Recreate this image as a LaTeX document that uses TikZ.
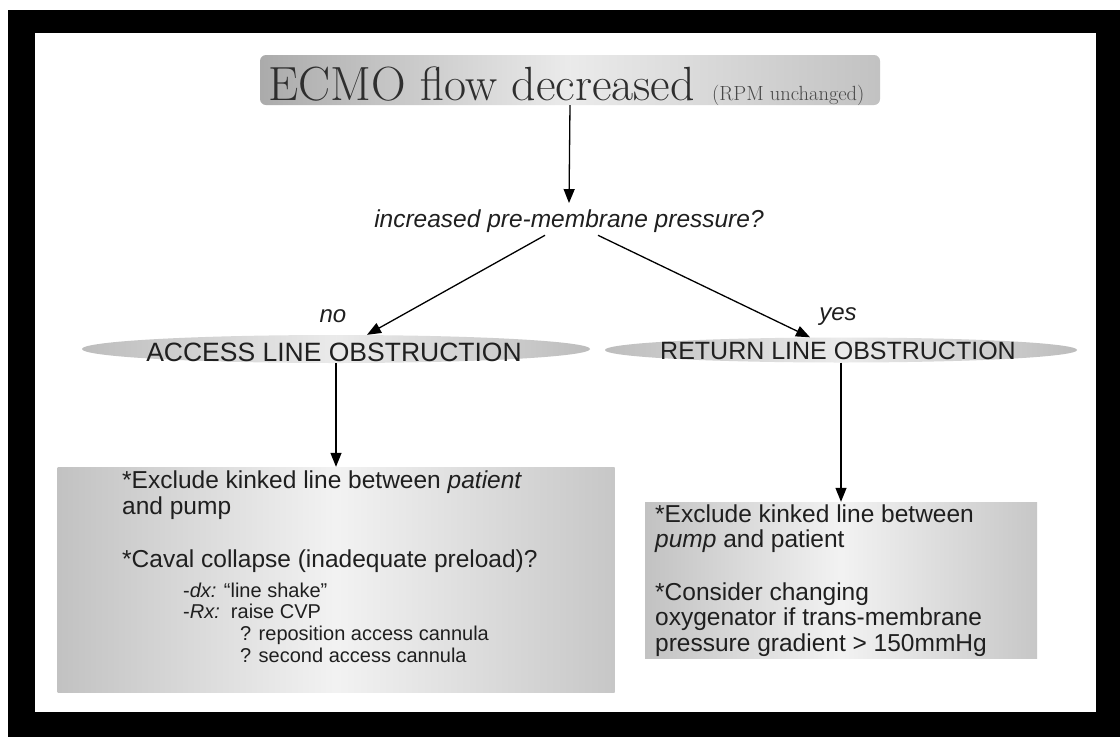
\documentclass[tikz,border=0pt]{standalone}
\usepackage{fontspec}
\setsansfont{Liberation Sans}
\usetikzlibrary{arrows.meta,shapes.geometric}
\tikzset{
  titlebox/.style={rectangle,rounded corners=6pt,left color=black!33,right color=black!24,middle color=black!8,minimum width=620pt,minimum height=50pt},
  oval/.style={ellipse,inner sep=0pt,left color=black!26,right color=black!26,middle color=black!8},
  notebox/.style={rectangle,inner sep=0pt,left color=black!24,right color=black!22,middle color=black!5},
  txt/.style={anchor=base west,inner sep=0pt,text=black!88,font=\sffamily\fontsize{24.5}{26}\selectfont},
  subtxt/.style={txt,font=\sffamily\fontsize{20}{22}\selectfont},
  arr/.style={line width=1.3pt,-{Triangle[length=14pt,width=11pt]}}
}
\begin{document}
\begin{tikzpicture}[x=1pt,y=-1pt]
\useasboundingbox (0,0) rectangle (1120,737);
% frame
\fill[black] (8,10) rectangle (1120,737);
\fill[white] (35,33) rectangle (1096,712);
% title
\node[titlebox] (flow) at (570,80) {};
\node[txt,text=black!82,font=\fontsize{48}{48}\selectfont] (flowtxt) at (268,100) {ECMO flow decreased};
\node[txt,text=black!72,font=\fontsize{20.5}{20.5}\selectfont] (rpm) at (712,100) {(RPM unchanged)};
% question
\node[txt,anchor=base,font=\sffamily\itshape\fontsize{24.5}{26}\selectfont] (q) at (569,227) {increased pre-membrane pressure?};
\node[txt,anchor=base,font=\sffamily\itshape\fontsize{24}{24}\selectfont] (no) at (333,322) {no};
\node[txt,anchor=base,font=\sffamily\itshape\fontsize{24}{24}\selectfont] (yes) at (838,320) {yes};
% obstructions
\node[oval,minimum width=508pt,minimum height=28pt] (acc) at (336,349) {};
\node[txt,anchor=base,font=\sffamily\fontsize{26.5}{28}\selectfont] (acctxt) at (334,361) {ACCESS LINE OBSTRUCTION};
\node[oval,minimum width=472pt,minimum height=25pt] (ret) at (841,350) {};
\node[txt,anchor=base,font=\sffamily\fontsize{25}{27}\selectfont] (rettxt) at (838,359) {RETURN LINE OBSTRUCTION};
% what to do
\node[notebox,minimum width=557pt,minimum height=225pt] (accbox) at (336,579.5) {};
\node[notebox,minimum width=392pt,minimum height=156pt] (retbox) at (841,580) {};
\foreach \y/\l in {488/{*Exclude kinked line between \textit{patient}},514/and pump,567/{*Caval collapse (inadequate preload)?}}
  \node[txt] (accl\y) at (122,\y) {\l};
\foreach \x/\y/\l in {183/597/{-\textit{dx:} ``line shake''},183/618/{-\textit{Rx:}\ \ raise CVP},240/640/? reposition access cannula,240/662/? second access cannula}
  \node[subtxt] (accs\y) at (\x,\y) {\l};
\foreach \y/\l in {522/*Exclude kinked line between,547/{\textit{pump} and patient},600/*Consider changing,625/oxygenator if trans-membrane,651/pressure gradient > 150mmHg}
  \node[txt] (retl\y) at (655,\y) {\l};
% arrows
\draw[arr] (flow.south) -- ([yshift=6pt]q.north);
\draw[arr] ([xshift=-24pt,yshift=-3pt]q.south) -- ([xshift=31pt]acc.north);
\draw[arr] ([xshift=29pt,yshift=-3pt]q.south) -- ([xshift=-31pt]ret.north);
\draw[arr] (acc.south) -- (accbox.north);
\draw[arr] (ret.south) -- (retbox.north);
\end{tikzpicture}
\end{document}
